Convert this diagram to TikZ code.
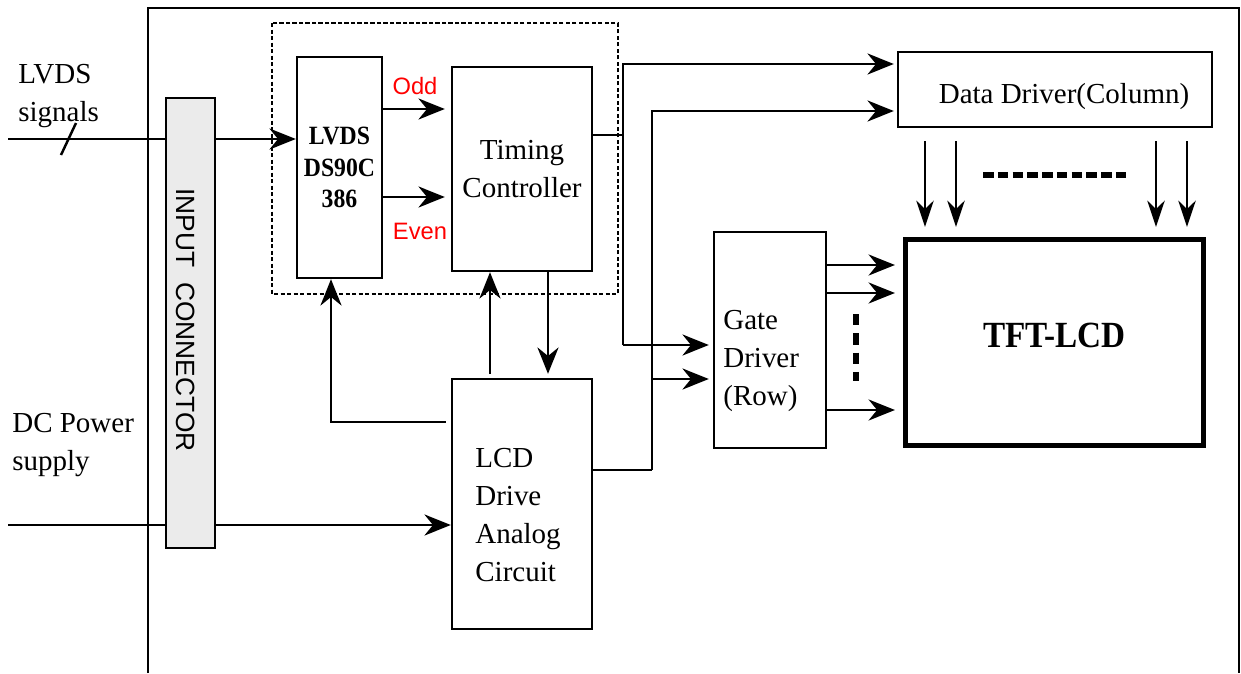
\documentclass[tikz,border=0pt]{standalone}
\usepackage{fontspec}
\setmainfont{Liberation Serif}
\setsansfont{Liberation Sans}
\newfontfamily\narrowserif[FakeStretch=0.9]{Liberation Serif}
\usetikzlibrary{arrows.meta}
\definecolor{congray}{HTML}{EBEBEB}
\tikzset{
  blk/.style={draw, line width=1.4pt, inner sep=0pt, font=\fontsize{16.5}{21.5}\selectfont},
  txt/.style={inner sep=0pt, font=\fontsize{16.5}{21.5}\selectfont},
  sig/.style={inner sep=0pt, text=red, font=\sffamily\fontsize{13.5}{16}\selectfont},
  wire/.style={line width=1.4pt},
  arr/.style={line width=1.4pt, -{Stealth[length=15pt,width=12pt]}},
  thinarr/.style={line width=0.9pt, -{Stealth[length=15pt,width=10pt]}},
  dots/.style={line width=3.3pt, dash pattern=on 6pt off 2.4pt},
}

\begin{document}
\begin{tikzpicture}[x=0.02cm, y=-0.02cm]
		\useasboundingbox (0,0) rectangle (1241,673);
		
		% outer board and the dashed group
		\draw[line width=1.1pt] (148,673) -- (148,8) -- (1239,8) -- (1239,673);
		\draw[line width=0.7pt, dash pattern=on 2.5pt off 1.2pt] (272,23) rectangle (618,294);
		
		% blocks
		\node[blk, minimum width=1.7cm, minimum height=4.42cm, align=center,
		      font=\narrowserif\bfseries\fontsize{15}{18}\selectfont] (lvds) at (339.5,167.5) {LVDS\\DS90C\\386};
		\node[blk, minimum width=2.8cm, minimum height=4.08cm, align=center] (tcon) at (522,169) {Timing\\Controller};
		\node[blk, minimum width=6.28cm, minimum height=1.5cm] (ddrv) at (1055,89.5) {};
		\node[txt] (ddrvtext) at (1064,97) {Data Driver(Column)};
		\node[blk, minimum width=2.24cm, minimum height=4.32cm] (gdrv) at (770,340) {};
		\node[txt, align=left, anchor=west] (gdrvtext) at (723,361) {Gate\\Driver\\(Row)};
		\node[blk, line width=3pt, minimum width=5.96cm, minimum height=4.12cm, text depth=8pt,
		      font=\narrowserif\bfseries\fontsize{21}{25}\selectfont] (tft) at (1054.5,342.5) {TFT-LCD};
		\node[blk, minimum width=2.8cm, minimum height=5cm] (lcd) at (522,504) {};
		\node[txt, align=left, anchor=west] (lcdtext) at (475,515) {LCD\\Drive\\Analog\\Circuit};
		
		% inputs
		\coordinate (lvdssrc) at (8,139);
		\coordinate (dcsrc) at (8,525);
		\draw[arr] (lvdssrc) -- (lvdssrc -| lvds.west);
		\draw[wire] (61,155) -- (76,123);
		\draw[arr] (dcsrc) -- (dcsrc -| lcd.west);
		\node[txt, align=left, anchor=west] (lvdslbl) at (18,96) {LVDS\\signals};
		\node[txt, align=left, anchor=west] (dclbl) at (12,445) {DC Power\\supply};
		
		\node[draw, line width=1.4pt, fill=congray, minimum width=0.98cm, minimum height=9cm, inner sep=0pt] (conn) at (190.5,323) {};
		\node[rotate=-90, inner sep=0pt, font=\sffamily\fontsize{15}{18}\selectfont] (conntext) at (186,320) {INPUT\ \ CONNECTOR};
		
		% odd / even
		\draw[arr, shorten >=0.12cm] (lvds.east |- 0,109) -- (tcon.west |- 0,109);
		\draw[arr, shorten >=0.12cm] (lvds.east |- 0,197) -- (tcon.west |- 0,197);
		\node[sig] (odd) at (415,86) {Odd};
		\node[sig] (even) at (420,231) {Even};
		
		% timing controller to the drivers
		\draw[wire] (tcon.east |- 0,135) -- (623,135);
		\draw[arr, shorten >=0.06cm] (623,345) |- (ddrv.west |- 0,64);
		\draw[arr, shorten >=0.08cm] (623,345) -- (gdrv.west |- 0,345);
		
		% analog circuit to the drivers
		\draw[wire] (lcd.east |- 0,470) -- (652,470);
		\draw[arr, shorten >=0.06cm] (652,470) |- (ddrv.west |- 0,111);
		\draw[arr, shorten >=0.08cm] (652,379) -- (gdrv.west |- 0,379);
		
		% analog circuit back to the lvds and timing blocks
		\draw[arr, shorten <=0.1cm] (lcd.west |- 0,422) -| (lvds.south -| 331,0);
		\draw[arr, shorten <=0.08cm] (lcd.north -| 490,0) -- (tcon.south -| 490,0);
		\draw[arr, shorten >=0.08cm] (tcon.south -| 548,0) -- (lcd.north -| 548,0);
		
		% rows
		\foreach \yy in {265,293,410}
			\draw[arr, shorten >=0.16cm] (gdrv.east |- 0,\yy) -- (tft.west |- 0,\yy);
		\draw[line width=3pt, dash pattern=on 6.5pt off 4.5pt] (856,314) -- (856,381);
		
		% columns
		\foreach \xx in {925,956,1156,1187}
			\draw[thinarr, shorten <=0.26cm, shorten >=0.2cm] (ddrv.south -| \xx,0) -- (tft.north -| \xx,0);
		\draw[dots] (983,175) -- (1128,175);
		
	\end{tikzpicture}
\end{document}
